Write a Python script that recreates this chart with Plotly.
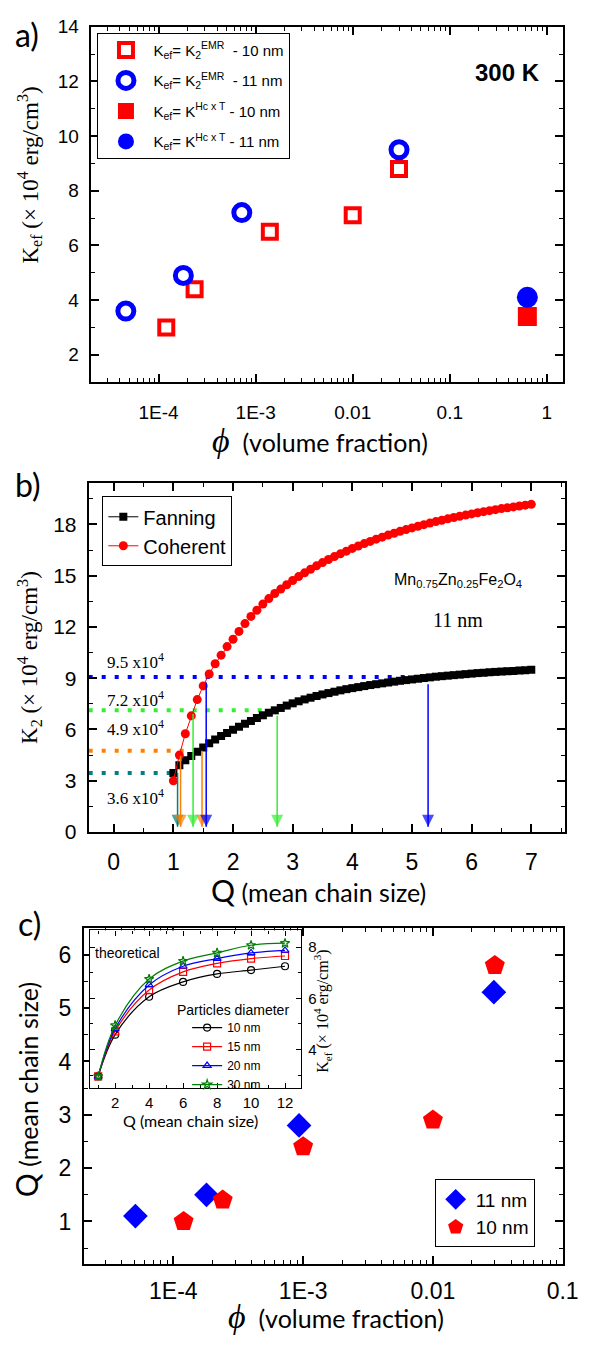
import plotly.graph_objects as go

W, H = 591, 1345


def px(X):
    return X / W


def py(Y):
    return 1 - Y / H


# ---------------- Panel a data ----------------
phi_emr_11 = [4.6e-5, 1.8e-4, 7.2e-4, 0.03]
k_emr_11 = [3.6, 4.9, 7.2, 9.5]
phi_emr_10 = [1.2e-4, 2.35e-4, 1.4e-3, 0.01, 0.03]
k_emr_10 = [3.0, 4.4, 6.5, 7.1, 8.8]
phi_hc_10 = [0.63]
k_hc_10 = [3.4]
phi_hc_11 = [0.63]
k_hc_11 = [4.1]

# ---------------- Panel b data ----------------
q_grid = [1.0, 1.1, 1.2, 1.3, 1.4, 1.5, 1.6, 1.7, 1.8, 1.9,
          2.0, 2.1, 2.2, 2.3, 2.4, 2.5, 2.6, 2.7, 2.8, 2.9,
          3.0, 3.1, 3.2, 3.3, 3.4, 3.5, 3.6, 3.7, 3.8, 3.9,
          4.0, 4.1, 4.2, 4.3, 4.4, 4.5, 4.6, 4.7, 4.8, 4.9,
          5.0, 5.1, 5.2, 5.3, 5.4, 5.5, 5.6, 5.7, 5.8, 5.9,
          6.0, 6.1, 6.2, 6.3, 6.4, 6.5, 6.6, 6.7, 6.8, 6.9, 7.0]
k2_fanning = [3.45, 3.9, 4.2, 4.45, 4.7, 4.95, 5.2, 5.42, 5.62, 5.8,
              5.98, 6.16, 6.33, 6.5, 6.67, 6.83, 6.98, 7.12, 7.26, 7.4,
              7.53, 7.65, 7.76, 7.86, 7.96, 8.05, 8.13, 8.21, 8.29, 8.36,
              8.42, 8.48, 8.54, 8.6, 8.65, 8.7, 8.75, 8.8, 8.85, 8.89,
              8.93, 8.97, 9.01, 9.05, 9.09, 9.12, 9.15, 9.18, 9.21, 9.24,
              9.27, 9.3, 9.32, 9.35, 9.37, 9.39, 9.41, 9.43, 9.45, 9.47, 9.49]
k2_coherent = [3.0, 4.5, 5.75, 6.8, 7.75, 8.55, 9.25, 9.85, 10.35, 10.85,
               11.28, 11.74, 12.2, 12.62, 12.98, 13.34, 13.66, 13.96, 14.22, 14.47,
               14.72, 14.95, 15.17, 15.38, 15.58, 15.77, 15.95, 16.12, 16.28, 16.44,
               16.6, 16.74, 16.88, 17.01, 17.14, 17.26, 17.38, 17.49, 17.6, 17.7,
               17.8, 17.9, 17.99, 18.08, 18.17, 18.25, 18.33, 18.41, 18.48, 18.55,
               18.62, 18.69, 18.75, 18.81, 18.87, 18.93, 18.98, 19.03, 19.08, 19.13, 19.18]

# guide lines (horizontal dotted levels and down arrows)
guide_colors = ["#008080", "#FF8000", "#33EE33", "#0000FF"]
guide_levels = [3.45, 4.75, 7.12, 9.07]
guide_ends = [1.05, 1.47, 2.68, 5.22]
guide_labels = ["3.6 x10<sup>4</sup>", "4.9 x10<sup>4</sup>", "7.2 x10<sup>4</sup>", "9.5 x10<sup>4</sup>"]
guide_label_y = [2.06, 6.06, 7.79, 10.0]
arrow_q = [[1.07], [1.12, 1.48], [1.33, 2.74], [1.55, 5.27]]
arrow_top = [[3.45], [4.45, 4.75], [6.9, 6.8], [8.75, 8.65]]
arrow_tip = 0.3

# ---------------- Panel c data ----------------
phi_11nm = [5.1e-5, 1.8e-4, 9.3e-4, 0.0295]
q_11nm = [1.1, 1.5, 2.8, 5.3]
phi_10nm = [1.2e-4, 2.4e-4, 1.0e-3, 0.01, 0.03]
q_10nm = [1.0, 1.4, 2.4, 2.9, 5.8]

# inset (theoretical)
q_inset = [1, 2, 4, 6, 8, 10, 12]
kef_10nm = [2.95, 4.58, 6.06, 6.64, 6.95, 7.10, 7.25]
kef_15nm = [2.95, 4.71, 6.32, 7.03, 7.36, 7.55, 7.65]
kef_20nm = [2.95, 4.81, 6.52, 7.25, 7.55, 7.77, 7.87]
kef_30nm = [2.95, 4.94, 6.75, 7.45, 7.77, 8.07, 8.15]

RED = "#FF0000"
BLUE = "#0000FF"
NARROW = "Liberation Sans Narrow, Arial Narrow, Liberation Sans, Arial"
SERIF = "Liberation Serif, Times New Roman, serif"
SANS2 = "Lato, Open Sans, sans-serif"

fig = go.Figure()

# ---- panel a traces ----
fig.add_trace(go.Scatter(x=phi_emr_10, y=k_emr_10, mode="markers", xaxis="x", yaxis="y",
                         name="K<sub>ef</sub>= K<sub>2</sub><sup>EMR</sup>  - 10 nm", legend="legend",
                         legendgroup="a1",
                         marker=dict(symbol="square-open", size=14, color=RED, line=dict(width=4, color=RED))))
fig.add_trace(go.Scatter(x=phi_emr_11, y=k_emr_11, mode="markers", xaxis="x", yaxis="y",
                         name="K<sub>ef</sub>= K<sub>2</sub><sup>EMR</sup>  - 11 nm", legend="legend",
                         legendgroup="a2",
                         marker=dict(symbol="circle-open", size=16, color=BLUE, line=dict(width=5, color=BLUE))))
fig.add_trace(go.Scatter(x=phi_hc_10, y=k_hc_10, mode="markers", xaxis="x", yaxis="y",
                         name="K<sub>ef</sub>= K<sup>Hc x T</sup> - 10 nm", legend="legend",
                         legendgroup="a3",
                         marker=dict(symbol="square", size=19, color=RED)))
fig.add_trace(go.Scatter(x=phi_hc_11, y=k_hc_11, mode="markers", xaxis="x", yaxis="y",
                         name="K<sub>ef</sub>= K<sup>Hc x T</sup> - 11 nm", legend="legend",
                         legendgroup="a4",
                         marker=dict(symbol="circle", size=21, color=BLUE)))

# ---- panel b traces ----
for c, lev, end in zip(guide_colors, guide_levels, guide_ends):
    fig.add_trace(go.Scatter(x=[-0.42, end], y=[lev, lev], mode="lines", xaxis="x2", yaxis="y2",
                             showlegend=False, hoverinfo="skip",
                             line=dict(color=c, width=4, dash="4px,9px")))

fig.add_trace(go.Scatter(x=q_grid, y=k2_fanning, mode="lines+markers", xaxis="x2", yaxis="y2",
                         name="Fanning", legend="legend2",
                         line=dict(color="black", width=1),
                         marker=dict(symbol="square", size=8, color="black")))
fig.add_trace(go.Scatter(x=q_grid, y=k2_coherent, mode="lines+markers", xaxis="x2", yaxis="y2",
                         name="Coherent", legend="legend2",
                         line=dict(color=RED, width=1),
                         marker=dict(symbol="circle", size=9, color=RED)))

for c, qs, tops in zip(guide_colors, arrow_q, arrow_top):
    for q, t in zip(qs, tops):
        fig.add_trace(go.Scatter(x=[q, q], y=[t, arrow_tip], mode="lines+markers", xaxis="x2", yaxis="y2",
                                 showlegend=False, hoverinfo="skip",
                                 line=dict(color=c, width=1.5),
                                 marker=dict(symbol=["line-ew", "arrow-down"], size=[0, 12], color=c,
                                             line=dict(width=0))))

# ---- panel c traces ----
fig.add_trace(go.Scatter(x=phi_11nm, y=q_11nm, mode="markers", xaxis="x3", yaxis="y3",
                         name="11 nm", legend="legend3",
                         marker=dict(symbol="diamond", size=19, color=BLUE)))
fig.add_trace(go.Scatter(x=phi_10nm, y=q_10nm, mode="markers", xaxis="x3", yaxis="y3",
                         name="10 nm", legend="legend3",
                         marker=dict(symbol="pentagon", size=21, color=RED)))

inset_series = [("10 nm", kef_10nm, "black", "circle-open"),
                ("15 nm", kef_15nm, RED, "square-open"),
                ("20 nm", kef_20nm, BLUE, "triangle-up-open"),
                ("30 nm", kef_30nm, "#008000", "star-open")]
for name, vals, col, sym in inset_series:
    fig.add_trace(go.Scatter(x=q_inset, y=vals, mode="lines+markers", xaxis="x4", yaxis="y4",
                             name=name, legend="legend4",
                             line=dict(color=col, width=1.2, shape="spline", smoothing=1.0),
                             marker=dict(symbol=sym, size=7, color=col, line=dict(width=1.2, color=col))))

# ---- axes ----
def axis(**kw):
    d = dict(showline=True, linecolor="black", linewidth=2, mirror="allticks",
             ticks="inside", ticklen=8, tickwidth=1.5, tickcolor="black",
             showgrid=False, zeroline=False,
             tickfont=dict(family=NARROW, size=20, color="black"))
    d.update(kw)
    return d


def minor(**kw):
    d = dict(ticks="inside", ticklen=4, tickwidth=1.2, tickcolor="black", showgrid=False)
    d.update(kw)
    return d


log_minor_vals = [m * 10.0 ** e for e in range(-5, 1) for m in range(2, 10)]

layout = dict(
    width=W, height=H, autosize=False,
    margin=dict(l=0, r=0, t=0, b=0),
    paper_bgcolor="white", plot_bgcolor="white",
    xaxis=axis(type="log", domain=[px(93), px(578)], anchor="y", range=[-4.70, 0.17],
               tickmode="array", tickvals=[1e-4, 1e-3, 1e-2, 1e-1, 1],
               ticktext=["1E-4", "1E-3", "0.01", "0.1", "1"], ticklabelstandoff=12,
               tickfont=dict(family=NARROW, size=19, color="black"),
               minor=minor(tickmode="array", tickvals=log_minor_vals)),
    yaxis=axis(domain=[py(378), py(17)], anchor="x", range=[1, 14],
               tickmode="array", tickvals=[2, 4, 6, 8, 10, 12, 14], ticklabelstandoff=6,
               tickfont=dict(family=NARROW, size=19, color="black"),
               minor=minor(dtick=1)),
    xaxis2=axis(domain=[px(91), px(580)], anchor="y2", range=[-0.42, 7.57],
                tickmode="linear", tick0=0, dtick=1, ticklabelstandoff=8,
                tickfont=dict(family=NARROW, size=23, color="black"),
                minor=minor(dtick=0.5)),
    yaxis2=axis(domain=[py(835), py(481)], anchor="x2", range=[0, 20.4],
                tickmode="linear", tick0=0, dtick=3, ticklabelstandoff=6,
                tickfont=dict(family=NARROW, size=21, color="black"),
                minor=minor(dtick=1.5)),
    xaxis3=axis(type="log", domain=[px(86), px(578)], anchor="y3", range=[-4.69, -0.995],
                tickmode="array", tickvals=[1e-4, 1e-3, 1e-2, 1e-1],
                ticktext=["1E-4", "1E-3", "0.01", "0.1"], ticklabelstandoff=5,
                ticklabeloverflow="allow",
                tickfont=dict(family=NARROW, size=23, color="black"),
                minor=minor(tickmode="array", tickvals=log_minor_vals)),
    yaxis3=axis(domain=[py(1274), py(932.7)], anchor="x3", range=[0.2, 6.5],
                tickmode="linear", tick0=0, dtick=1, ticklabelstandoff=6,
                tickfont=dict(family=NARROW, size=23, color="black"),
                minor=minor(dtick=0.5)),
    xaxis4=axis(domain=[px(92), px(309)], anchor="y4", range=[0.5, 12.95], linewidth=1.2,
                tickmode="linear", tick0=0, dtick=2, ticklen=5, tickwidth=1, ticklabelstandoff=1,
                tickfont=dict(family=NARROW, size=15, color="black"),
                minor=minor(dtick=1, ticklen=3, tickwidth=1)),
    yaxis4=axis(domain=[py(1095), py(935)], anchor="x4", range=[2.5, 8.65], side="right", linewidth=1.2,
                tickmode="linear", tick0=0, dtick=2, ticklen=5, tickwidth=1, ticklabelstandoff=3,
                tickfont=dict(family=NARROW, size=15, color="black"),
                minor=minor(dtick=1, ticklen=3, tickwidth=1)),
    legend=dict(x=px(100), y=py(23), xanchor="left", yanchor="top",
                bordercolor="black", borderwidth=1, bgcolor="white", itemwidth=45,
                font=dict(family=NARROW, size=15, color="black"), tracegroupgap=8),
    legend2=dict(x=px(105), y=py(494), xanchor="left", yanchor="top",
                 bordercolor="black", borderwidth=1, bgcolor="white",
                 font=dict(family=NARROW, size=20, color="black")),
    legend3=dict(x=px(446), y=py(1188), xanchor="left", yanchor="top",
                 bordercolor="black", borderwidth=1, bgcolor="white",
                 font=dict(family=NARROW, size=19, color="black")),
    legend4=dict(x=px(192), y=py(1019), xanchor="left", yanchor="top",
                 bgcolor="rgba(0,0,0,0)", borderwidth=0,
                 font=dict(family=NARROW, size=12, color="black")),
)
fig.update_layout(**layout)

ann = []


def note(text, X, Y, size, family=SANS2, angle=0, **kw):
    d = dict(text=text, x=px(X), y=py(Y), xref="paper", yref="paper", showarrow=False,
             textangle=angle, xanchor="center", yanchor="middle",
             font=dict(family=family, size=size, color="black"))
    d.update(kw)
    ann.append(d)


PHI = '<span style="font-family:Liberation Serif;font-size:34px"><i>ϕ</i></span>  (volume fraction)'
QT = '<span style="font-size:30px">Q</span> (mean chain size)'
KEF = "K<sub>ef</sub> (× 10<sup>4</sup> erg/cm<sup>3</sup>)"
K2 = "K<sub>2</sub> (× 10<sup>4</sup> erg/cm<sup>3</sup>)"

note("a)", 28, 25, 32)
note("b)", 29, 482, 32)
note("c)", 30, 928, 32)
note(KEF, 30, 168, 23, family=SERIF, angle=-90)
note(PHI, 328, 437, 25)
note("<b>300 K</b>", 521, 63, 24, family="Liberation Sans, Arial")
note(K2, 30, 658, 23, family=SERIF, angle=-90)
note(QT, 327, 894, 25)
note(QT, 27, 1097, 25, angle=-90)
note(PHI, 345, 1327, 25)
note("Mn<sub>0.75</sub>Zn<sub>0.25</sub>Fe<sub>2</sub>O<sub>4</sub>", 470, 580, 16, family=NARROW)
note("11 nm", 470, 620, 20, family=SERIF)
note("theoretical", 131, 958, 14, family=NARROW)
note("Particles diameter", 239, 1016, 14, family=NARROW)
note("Q (mean chain size)", 195, 1128, 16)
note(KEF, 331, 1017, 16, family=SERIF, angle=-90)

for lab, ly in zip(guide_labels, guide_label_y):
    ann.append(dict(text=lab, x=0.37, y=ly, xref="x2", yref="y2", showarrow=False,
                    xanchor="center", yanchor="middle",
                    font=dict(family=SERIF, size=17, color="black")))

fig.update_layout(annotations=ann)
fig.write_html("out.html", config={"displayModeBar": False},
               post_script="document.body.style.margin='0px';")
